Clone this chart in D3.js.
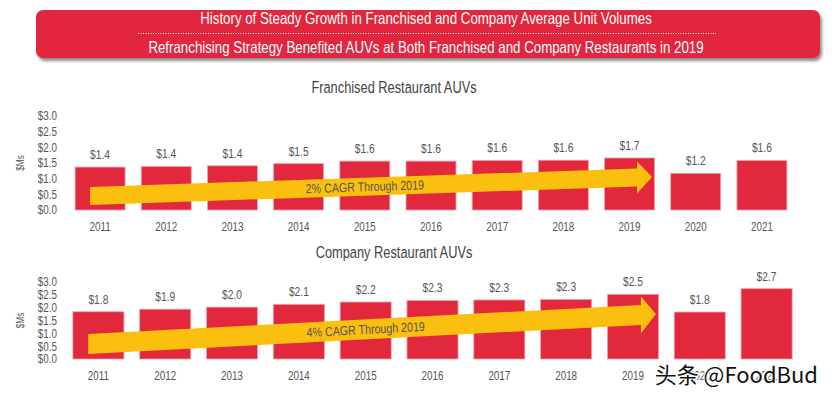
<!DOCTYPE html>
<html lang="en">
<head>
<meta charset="UTF-8">
<title>AUV history</title>
<script src="https://cdn.jsdelivr.net/npm/d3@7"></script>
<style>
  body { margin: 0; background: #fff; }
  text { font-family: "Liberation Sans", Arial, sans-serif; }
</style>
</head>
<body>
<div id="chart"></div>
<script>
// data
var years = [2011, 2012, 2013, 2014, 2015, 2016, 2017, 2018, 2019, 2020, 2021];
var franchised = [1.37, 1.39, 1.41, 1.48, 1.56, 1.56, 1.58, 1.59, 1.66, 1.17, 1.58];
var company = [1.84, 1.94, 2.02, 2.13, 2.22, 2.28, 2.30, 2.32, 2.52, 1.83, 2.74];
var yTicks = [0, 0.5, 1.0, 1.5, 2.0, 2.5, 3.0];
var titleLines = ["History of Steady Growth in Franchised and Company Average Unit Volumes",
                  "Refranchising Strategy Benefited AUVs at Both Franchised and Company Restaurants in 2019"];

var W = 832, H = 394;
var red = "#e1283c", yellow = "#fbbf10", grey = "#555";
var fmt = d3.format("$.1f");

// no Arial Narrow here, so squeeze Liberation Sans horizontally
function narrow(sel, k) {
    k = k || 0.8;
    sel.style("font-family", "\"Liberation Sans\", Arial, sans-serif")
        .each(function () {
            var l = this.getComputedTextLength();
            d3.select(this).attr("textLength", l * k).attr("lengthAdjust", "spacingAndGlyphs");
        });
}

var svg = d3.select("#chart").append("svg")
    .attr("width", W).attr("height", H);

// drop shadow for header
var defs = svg.append("defs");
var f = defs.append("filter").attr("id", "shadow")
    .attr("x", "-5%").attr("y", "-20%").attr("width", "110%").attr("height", "150%");
f.append("feDropShadow").attr("dx", 2).attr("dy", 3).attr("stdDeviation", 1.5)
    .attr("flood-color", "#000").attr("flood-opacity", 0.45);

// header box
svg.append("rect")
    .attr("x", 36).attr("y", 10).attr("width", 784).attr("height", 48)
    .attr("rx", 7).attr("fill", red).attr("filter", "url(#shadow)");

svg.append("line")
    .attr("x1", 138).attr("x2", 716).attr("y1", 33.5).attr("y2", 33.5)
    .attr("stroke", "#fff").attr("stroke-width", 1.2).attr("stroke-dasharray", "1,1.5");

svg.selectAll(".title").data(titleLines).enter().append("text")
    .attr("x", 426).attr("y", function (d, i) { return i ? 52.5 : 24; })
    .attr("text-anchor", "middle").attr("fill", "#fff")
    .style("font-size", "16.5px")
    .text(function (d) { return d; })
    .call(narrow, 0.805);

// one panel per series
function panel(opts) {
    var g = svg.append("g");

    var x = d3.scaleBand().domain(years)
        .range(opts.xRange).paddingInner(opts.pad).paddingOuter(opts.pad / 2);
    var y = d3.scaleLinear().domain([0, 3]).range(opts.yRange);

    g.append("text")
        .attr("x", 394).attr("y", opts.titleY)
        .attr("text-anchor", "middle").attr("fill", "#444")
        .style("font-size", "16.3px")
        .text(opts.title)
        .call(narrow, 0.787);

    // y axis: labels only
    var ya = g.append("g")
        .attr("transform", "translate(" + 59 + ",0)")
        .call(d3.axisLeft(y).tickValues(yTicks).tickFormat(fmt).tickSize(0).tickPadding(2));
    ya.select(".domain").remove();
    ya.selectAll("text").attr("fill", grey)
        .style("font-size", "12px")
        .call(narrow, 0.82);

    g.append("text")
        .attr("transform", "translate(24," + ((opts.yRange[0] + opts.yRange[1]) / 2) + ") rotate(-90)")
        .attr("text-anchor", "middle").attr("fill", grey)
        .style("font-size", "10px")
        .text("$Ms")
        .call(narrow, 0.82);

    // x axis: labels only
    var xa = g.append("g")
        .attr("transform", "translate(0," + opts.yRange[0] + ")")
        .call(d3.axisBottom(x).tickSize(0).tickPadding(12));
    xa.select(".domain").remove();
    xa.selectAll("text").attr("fill", grey)
        .style("font-size", "12px")
        .call(narrow, 0.82);

    // bars
    g.selectAll(".bar").data(opts.values).enter().append("rect")
        .attr("x", function (d, i) { return x(years[i]); })
        .attr("y", function (d) { return y(d); })
        .attr("width", x.bandwidth())
        .attr("height", function (d) { return y(0) - y(d); })
        .attr("fill", red).attr("stroke", "#f3a0aa").attr("stroke-width", 0.8);

    g.selectAll(".val").data(opts.values).enter().append("text")
        .attr("x", function (d, i) { return x(years[i]) + x.bandwidth() / 2; })
        .attr("y", function (d) { return y(d) - 8; })
        .attr("text-anchor", "middle").attr("fill", grey)
        .style("font-size", "12.5px")
        .text(fmt)
        .call(narrow, 0.82);

    // CAGR arrow
    var a = opts.arrow;
    var x0 = x(a.from) + x.bandwidth() * 0.3;
    var x2 = x(a.to) + x.bandwidth() * 0.95;
    var x1 = x2 - 15;
    var y0 = y(a.v0), y2 = y(a.v1);
    var slope = (y2 - y0) / (x2 - x0);
    var y1 = y0 + slope * (x1 - x0);
    var sh = a.shaft, hh = a.head;
    var pts = [[x0, y0 - sh], [x1, y1 - sh], [x1, y1 - hh], [x2, y2],
               [x1, y1 + hh], [x1, y1 + sh], [x0, y0 + sh]];
    g.append("path")
        .attr("d", d3.line()(pts) + "Z")
        .attr("fill", yellow);

    var lx = x(a.labelAt) + x.bandwidth() / 2;
    var ly = y0 + slope * (lx - x0);
    var ang = Math.atan(slope) * 180 / Math.PI;
    g.append("text")
        .attr("transform", "translate(" + lx + "," + ly + ") rotate(" + ang + ")")
        .attr("text-anchor", "middle").attr("dy", "0.35em")
        .attr("fill", grey)
        .style("font-size", "13px")
        .text(a.label)
        .call(narrow, 0.82);
}

panel({
    title: "Franchised Restaurant AUVs", titleY: 93,
    values: franchised,
    xRange: [67, 795], pad: 0.245, yRange: [210, 116],
    arrow: { from: 2011, to: 2019, v0: 0.45, v1: 1.05, shaft: 9, head: 16,
             labelAt: 2015, label: "2% CAGR Through 2019" }
});

panel({
    title: "Company Restaurant AUVs", titleY: 258,
    values: company,
    xRange: [65, 800], pad: 0.236, yRange: [359, 282],
    arrow: { from: 2011, to: 2019, v0: 0.58, v1: 1.75, shaft: 10, head: 18.5,
             labelAt: 2015, label: "4% CAGR Through 2019" }
});

// watermark
svg.append("text")
    .attr("x", 818).attr("y", 383).attr("text-anchor", "end")
    .attr("fill", "#111").attr("stroke", "#fff").attr("stroke-width", 2.5)
    .attr("paint-order", "stroke")
    .style("font-family", "\"Noto Sans CJK SC\", \"Noto Sans\", sans-serif")
    .style("font-size", "22px")
    .text("头条 @FoodBud");
</script>
</body>
</html>
